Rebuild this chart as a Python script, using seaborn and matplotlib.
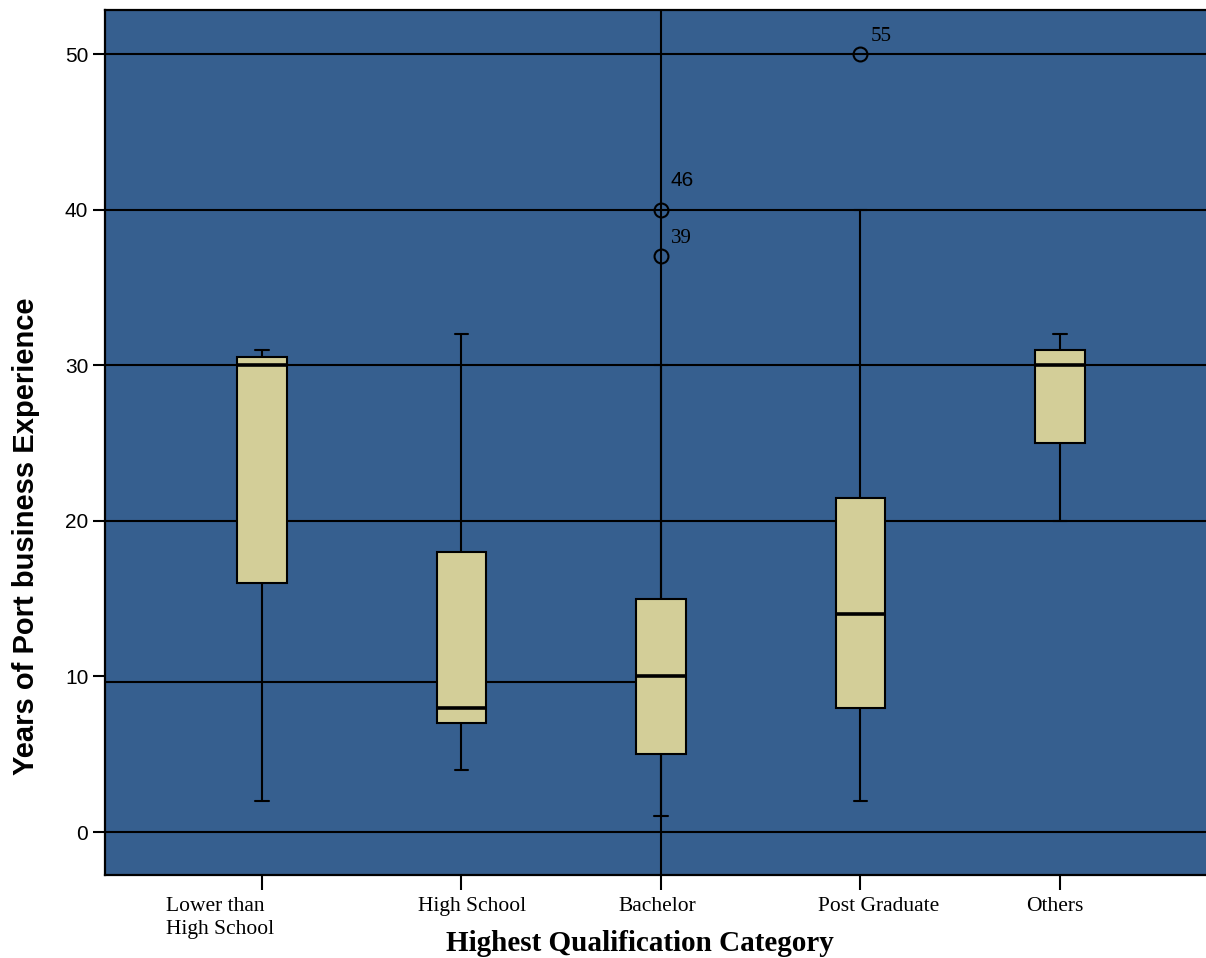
import numpy as np
import pandas as pd
import matplotlib
matplotlib.use("Agg")
import matplotlib.pyplot as plt
from matplotlib.transforms import ScaledTranslation
import seaborn as sns

# Five-number summaries of years of port business experience per qualification
categories = ["Lower than\nHigh School", "High School", "Bachelor", "Post Graduate", "Others"]
whisker_low = [2, 4, 1, 2, 20]
q1 = [16, 7, 5, 8, 25]
median = [30, 8, 10, 14, 30]
q3 = [30.5, 18, 15, 21.5, 31]
whisker_high = [31, 32, 30, 40, 32]
outliers = [[], [], [37, 40], [50], []]
outlier_ids = [[], [], ["39", "46"], ["55"], []]

y_ticks = [0, 10, 20, 30, 40, 50]


def sample_from_summary(lo, a, m, b, hi, extra):
    """Smallest sample whose linear-interpolated quartiles equal (a, m, b)."""
    k = 1 + len(extra)
    return [lo] + [a] * k + [m] * k + [b] * k + [hi] + list(extra)


rows = []
for i, cat in enumerate(categories):
    vals = sample_from_summary(whisker_low[i], q1[i], median[i], q3[i],
                               whisker_high[i], outliers[i])
    rows += [(cat, v) for v in vals]
df = pd.DataFrame(rows, columns=["category", "years"])

sns.set_theme(style="white")
plt.rcParams["font.family"] = ["Liberation Sans", "DejaVu Sans"]

BG = "#365f8f"
BOX = "#d3ce98"

fig = plt.figure(figsize=(12.06, 9.58), dpi=100)
ax = fig.add_axes([105 / 1206, 1 - 875 / 958, 1105 / 1206, 865 / 958])
ax.set_facecolor(BG)

sns.boxplot(
    data=df, x="category", y="years", order=categories, ax=ax,
    color=BOX, saturation=1, linecolor="black", linewidth=1.5,
    width=0.25, whis=1.5, capwidths=0.07,
    medianprops=dict(linewidth=2.6, color="black"),
    flierprops=dict(marker="o", markerfacecolor="none", markeredgecolor="black",
                    markersize=10, markeredgewidth=1.5),
)
for p in ax.patches:
    p.set_zorder(2)

xlim = (-0.787, 4.752)
ax.set_xlim(*xlim)
ax.set_ylim(-2.76, 52.83)

# reference lines behind the boxes
for yv in [0, 20, 30, 40, 50]:
    ax.axhline(yv, color="black", lw=1.5, zorder=0.6)
ax.hlines(9.62, xlim[0], 2, color="black", lw=1.5, zorder=0.6)
ax.axvline(2, color="black", lw=1.5, zorder=0.6)

# outlier case labels
label_fonts = {"46": "Liberation Sans", "39": "Liberation Serif", "55": "Liberation Serif"}
for i, (vals, ids) in enumerate(zip(outliers, outlier_ids)):
    for v, lab in zip(vals, ids):
        dy = 24 if lab == "46" else 13
        ax.annotate(lab, (i, v), xytext=(10, dy), textcoords="offset pixels",
                    ha="left", va="baseline", fontsize=15, color="black",
                    family=label_fonts[lab])

for side in ["left", "top", "bottom", "right"]:
    ax.spines[side].set_visible(True)
    ax.spines[side].set_color("black")
    ax.spines[side].set_linewidth(1.6)

ax.set_yticks(y_ticks)
ax.set_yticklabels([str(t) for t in y_ticks], fontsize=15, color="black")
ax.tick_params(axis="y", direction="out", length=9, width=1.5, color="black",
               left=True, pad=3)
ax.tick_params(axis="x", direction="out", length=11, width=1.5, color="black",
               bottom=True, pad=4.5)

ax.set_xticks(range(len(categories)))
ax.set_xticklabels(categories, fontsize=15.5, family="Liberation Serif",
                   color="black", va="top", linespacing=1.3)
offsets_px = [-42, 11, -4, 18, -5]
for lab, dx in zip(ax.get_xticklabels(), offsets_px):
    lab.set_multialignment("left")
    lab.set_transform(lab.get_transform() + ScaledTranslation(dx / 100, 0, fig.dpi_scale_trans))

ax.set_xlabel("Highest Qualification Category", fontsize=21, fontweight="bold",
              family="Liberation Serif", color="black")
ax.xaxis.set_label_coords(0.484, -0.0635)
ax.set_ylabel("Years of Port business Experience", fontsize=21, fontweight="bold",
              family="Liberation Sans", color="black")
ax.yaxis.set_label_coords(-0.0585, 0.392)

fig.savefig("out.png", dpi=100)
